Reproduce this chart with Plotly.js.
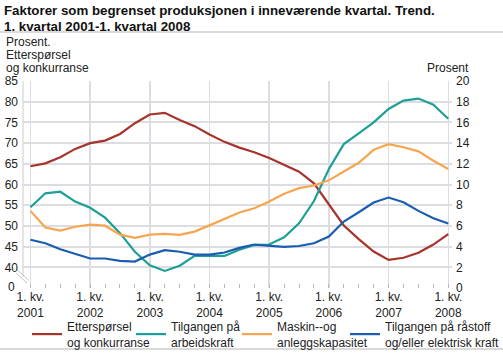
<!DOCTYPE html>
<html>
<head>
<meta charset="utf-8">
<script src="https://cdn.plot.ly/plotly-3.0.1.min.js"></script>
<style>html,body{margin:0;padding:0;background:#fff;}#chart{width:503px;height:353px;}</style>
</head>
<body>
<div id="chart"></div>
<script>
const quarters = [
  "2001K1","2001K2","2001K3","2001K4",
  "2002K1","2002K2","2002K3","2002K4",
  "2003K1","2003K2","2003K3","2003K4",
  "2004K1","2004K2","2004K3","2004K4",
  "2005K1","2005K2","2005K3","2005K4",
  "2006K1","2006K2","2006K3","2006K4",
  "2007K1","2007K2","2007K3","2007K4",
  "2008K1"
];
const tickQuarters = ["2001K1","2002K1","2003K1","2004K1","2005K1","2006K1","2007K1","2008K1"];
const tickLabels = ["1. kv.<br>2001","1. kv.<br>2002","1. kv.<br>2003","1. kv.<br>2004","1. kv.<br>2005","1. kv.<br>2006","1. kv.<br>2007","1. kv.<br>2008"];

// Left axis (Prosent. Etterspørsel og konkurranse)
const ettersporsel = [64.4, 65.1, 66.6, 68.6, 70.0, 70.6, 72.2, 74.8, 76.9, 77.3, 75.6, 74.1, 72.1, 70.3, 68.9, 67.8, 66.4, 64.8, 63.1, 60.3, 55.2, 50.1, 46.8, 43.8, 41.8, 42.3, 43.5, 45.5, 48.0];
// Right axis (Prosent)
const arbeidskraft = [7.8, 9.15, 9.3, 8.35, 7.75, 6.8, 5.3, 3.5, 2.2, 1.65, 2.15, 3.1, 3.1, 3.1, 3.7, 4.15, 4.2, 4.9, 6.25, 8.4, 11.5, 13.9, 14.95, 16.0, 17.3, 18.1, 18.3, 17.7, 16.35];
const maskin = [7.45, 5.84, 5.55, 5.92, 6.13, 6.02, 5.15, 4.85, 5.15, 5.22, 5.13, 5.45, 6.05, 6.65, 7.3, 7.7, 8.35, 9.1, 9.65, 9.9, 10.4, 11.25, 12.1, 13.35, 13.9, 13.6, 13.2, 12.3, 11.5];
const raastoff = [4.66, 4.32, 3.74, 3.26, 2.85, 2.85, 2.62, 2.55, 3.23, 3.65, 3.5, 3.22, 3.22, 3.43, 3.88, 4.2, 4.06, 3.97, 4.06, 4.32, 4.97, 6.42, 7.32, 8.26, 8.74, 8.29, 7.45, 6.74, 6.23];

const seriesNames = ["Etterspørsel<br>og konkurranse","Tilgangen på<br>arbeidskraft","Maskin--og<br>anleggskapasitet","Tilgangen på råstoff<br>og/eller elektrisk kraft"];
const colors = ["#a6342c","#1d9f97","#f8a550","#1a5db0"];

const titleLines = ["Faktorer som begrenset produksjonen i inneværende kvartal. Trend.", "1. kvartal 2001-1. kvartal 2008"];
const leftTitleLines = ["Prosent.", "Etterspørsel", "og konkurranse"];
const rightTitle = "Prosent";

const leftTicks = [40,45,50,55,60,65,70,75,80,85];
const rightTicks = [0,2,4,6,8,10,12,14,16,18,20];

// plot-area geometry helpers (pixels -> paper)
const L = 23, R = 452, T = 81, B = 288;
const PX = x => (x - L) / (R - L);
const PY = y => (B - y) / (B - T);

const font = "Liberation Sans, Arial, sans-serif";
const txt = "#222";
const grid = "#dcdde1";

const traces = [
  {x: quarters, y: ettersporsel, name: seriesNames[0], yaxis: "y", legend: "legend", line: {color: colors[0]}},
  {x: quarters, y: arbeidskraft, name: seriesNames[1], yaxis: "y2", legend: "legend2", line: {color: colors[1]}},
  {x: quarters, y: maskin, name: seriesNames[2], yaxis: "y2", legend: "legend3", line: {color: colors[2]}},
  {x: quarters, y: raastoff, name: seriesNames[3], yaxis: "y2", legend: "legend4", line: {color: colors[3]}}
].map(t => Object.assign(t, {type: "scatter", mode: "lines", line: Object.assign(t.line, {width: 2.2}), hoverinfo: "skip"}));

const annotations = [
  {text: "<b>" + titleLines[0] + "</b>", x: PX(2), y: PY(10), xanchor: "left", yanchor: "middle", font: {size: 13.3, color: "#111"}},
  {text: "<b>" + titleLines[1] + "</b>", x: PX(2), y: PY(27), xanchor: "left", yanchor: "middle", font: {size: 13.3, color: "#111"}},
  {text: leftTitleLines[0], x: PX(4), y: PY(41.5), xanchor: "left", yanchor: "middle"},
  {text: leftTitleLines[1], x: PX(4), y: PY(55), xanchor: "left", yanchor: "middle"},
  {text: leftTitleLines[2], x: PX(4), y: PY(68.5), xanchor: "left", yanchor: "middle"},
  {text: rightTitle, x: PX(471), y: PY(68.5), xanchor: "right", yanchor: "middle"},
  {text: "0", x: PX(17), y: PY(287), xanchor: "right", yanchor: "middle"}
].map(a => Object.assign({xref: "paper", yref: "paper", showarrow: false, align: "left", font: {size: 12, color: txt}}, a));

const legendBase = {
  orientation: "h", xanchor: "left",
  y: PY(312), yanchor: "top",
  font: {size: 12, color: txt},
  itemwidth: 30, tracegroupgap: 0,
  bgcolor: "rgba(0,0,0,0)"
};

const layout = {
  width: 503, height: 353,
  margin: {l: L, r: 503 - R, t: T, b: 353 - B, pad: 0, autoexpand: false},
  paper_bgcolor: "#fff", plot_bgcolor: "#fff",
  font: {family: font, size: 12, color: txt},
  showlegend: true,
  xaxis: {
    type: "category",
    range: [-0.5, 28.25],
    tickmode: "array", tickvals: tickQuarters, ticktext: tickLabels,
    showgrid: true, gridcolor: grid, gridwidth: 1.5,
    ticks: "", zeroline: false, showline: false,
    tickfont: {size: 12, color: txt},
    minor: {tickmode: "array", tickvals: quarters, ticks: "inside", ticklen: 4, tickcolor: "#b8b8b8", tickwidth: 1, showgrid: false}
  },
  yaxis: {
    range: [35, 85],
    tickmode: "array", tickvals: leftTicks,
    showgrid: true, gridcolor: grid, gridwidth: 2,
    zeroline: false, showline: false, ticks: "",
    tickfont: {size: 12, color: txt},
    ticklabelstandoff: 4
  },
  yaxis2: {
    overlaying: "y", side: "right",
    range: [0, 20],
    tickmode: "array", tickvals: rightTicks,
    showgrid: false, zeroline: false, showline: false, ticks: "",
    tickfont: {size: 12, color: txt},
    ticklabelstandoff: 3
  },
  legend: Object.assign({}, legendBase, {x: PX(27)}),
  legend2: Object.assign({}, legendBase, {x: PX(131)}),
  legend3: Object.assign({}, legendBase, {x: PX(237)}),
  legend4: Object.assign({}, legendBase, {x: PX(345)}),
  annotations: annotations,
  shapes: [
    {type: "line", xref: "paper", yref: "paper", x0: PX(0), x1: PX(503), y0: PY(32), y1: PY(32), line: {color: "#b5b5b5", width: 1}},
    {type: "line", xref: "paper", yref: "paper", x0: PX(0), x1: PX(503), y0: PY(349), y1: PY(349), line: {color: "#b5b5b5", width: 1}},
    {type: "line", xref: "paper", yref: "paper", x0: PX(23), x1: PX(23), y0: PY(81), y1: PY(277), line: {color: grid, width: 1.5}, layer: "below"},
    {type: "line", xref: "paper", yref: "paper", x0: PX(16), x1: PX(27), y0: PY(273), y1: PY(283), line: {color: "#c4c4c4", width: 1}},
    {type: "line", xref: "paper", yref: "paper", x0: PX(18), x1: PX(29), y0: PY(270.5), y1: PY(280.5), line: {color: "#c4c4c4", width: 1}}
  ]
};

Plotly.newPlot("chart", traces, layout, {displayModeBar: false, staticPlot: true});
</script>
</body>
</html>
